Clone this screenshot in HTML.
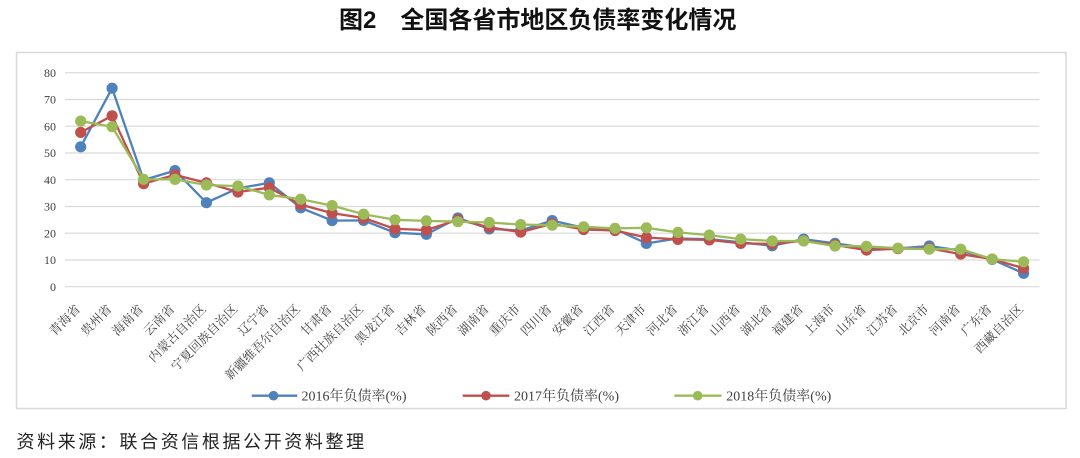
<!DOCTYPE html>
<html>
<head>
<meta charset="utf-8">
<style>
  html, body { margin: 0; padding: 0; background: #ffffff; }
  body { width: 1080px; height: 458px; overflow: hidden; position: relative; }
  svg { position: absolute; left: 0; top: 0; }
  .ylab { font-family: "Liberation Serif", "Noto Serif CJK SC", serif; font-size: 12px; fill: #404040; }
  .xlab { font-family: "Liberation Serif", "Noto Serif CJK SC", serif; font-size: 12.5px; fill: #404040; }
  .leg { font-family: "Liberation Serif", "Noto Serif CJK SC", serif; font-size: 14px; fill: #404040; }
  .title { font-family: "Liberation Sans", "Noto Sans CJK SC", sans-serif; font-size: 24px; font-weight: bold; fill: #111111; }
  .src { font-family: "Liberation Sans", "Noto Sans CJK SC", sans-serif; font-size: 18px; fill: #222222; letter-spacing: 2.6px; }
</style>
</head>
<body>
<svg width="1080" height="458" viewBox="0 0 1080 458" xmlns="http://www.w3.org/2000/svg">
  <!-- Title -->
  <text class="title" x="339" y="28">图2　全国各省市地区负债率变化情况</text>

  <!-- Chart frame -->
  <rect x="16.5" y="52.5" width="1049.5" height="356" fill="#ffffff" stroke="#d9d9d9" stroke-width="1.5"/>

  <!-- Gridlines -->
  <g stroke="#d9d9d9" stroke-width="1.2">
    <line x1="65" y1="72.7" x2="1039.5" y2="72.7"/>
    <line x1="65" y1="99.5" x2="1039.5" y2="99.5"/>
    <line x1="65" y1="126.2" x2="1039.5" y2="126.2"/>
    <line x1="65" y1="153.0" x2="1039.5" y2="153.0"/>
    <line x1="65" y1="179.7" x2="1039.5" y2="179.7"/>
    <line x1="65" y1="206.5" x2="1039.5" y2="206.5"/>
    <line x1="65" y1="233.2" x2="1039.5" y2="233.2"/>
    <line x1="65" y1="260.0" x2="1039.5" y2="260.0"/>
    <line x1="65" y1="286.7" x2="1039.5" y2="286.7"/>
  </g>

  <!-- Y labels -->
  <g class="ylab" text-anchor="end">
    <text x="56" y="76.9">80</text>
    <text x="56" y="103.7">70</text>
    <text x="56" y="130.4">60</text>
    <text x="56" y="157.2">50</text>
    <text x="56" y="183.9">40</text>
    <text x="56" y="210.7">30</text>
    <text x="56" y="237.4">20</text>
    <text x="56" y="264.2">10</text>
    <text x="56" y="290.9">0</text>
  </g>

  <!-- X labels -->
  <g class="xlab" text-anchor="end" dominant-baseline="central">
    <text transform="translate(78.2,307) rotate(-45)">青海省</text>
    <text transform="translate(109.6,307) rotate(-45)">贵州省</text>
    <text transform="translate(141.1,307) rotate(-45)">海南省</text>
    <text transform="translate(172.5,307) rotate(-45)">云南省</text>
    <text transform="translate(203.9,307) rotate(-45)">内蒙古自治区</text>
    <text transform="translate(235.4,307) rotate(-45)">宁夏回族自治区</text>
    <text transform="translate(266.8,307) rotate(-45)">辽宁省</text>
    <text transform="translate(298.2,307) rotate(-45)">新疆维吾尔自治区</text>
    <text transform="translate(329.6,307) rotate(-45)">甘肃省</text>
    <text transform="translate(361.1,307) rotate(-45)">广西壮族自治区</text>
    <text transform="translate(392.5,307) rotate(-45)">黑龙江省</text>
    <text transform="translate(423.9,307) rotate(-45)">吉林省</text>
    <text transform="translate(455.4,307) rotate(-45)">陕西省</text>
    <text transform="translate(486.8,307) rotate(-45)">湖南省</text>
    <text transform="translate(518.2,307) rotate(-45)">重庆市</text>
    <text transform="translate(549.7,307) rotate(-45)">四川省</text>
    <text transform="translate(581.1,307) rotate(-45)">安徽省</text>
    <text transform="translate(612.5,307) rotate(-45)">江西省</text>
    <text transform="translate(643.9,307) rotate(-45)">天津市</text>
    <text transform="translate(675.4,307) rotate(-45)">河北省</text>
    <text transform="translate(706.8,307) rotate(-45)">浙江省</text>
    <text transform="translate(738.2,307) rotate(-45)">山西省</text>
    <text transform="translate(769.7,307) rotate(-45)">湖北省</text>
    <text transform="translate(801.1,307) rotate(-45)">福建省</text>
    <text transform="translate(832.5,307) rotate(-45)">上海市</text>
    <text transform="translate(864.0,307) rotate(-45)">山东省</text>
    <text transform="translate(895.4,307) rotate(-45)">江苏省</text>
    <text transform="translate(926.8,307) rotate(-45)">北京市</text>
    <text transform="translate(958.2,307) rotate(-45)">河南省</text>
    <text transform="translate(989.7,307) rotate(-45)">广东省</text>
    <text transform="translate(1021.1,307) rotate(-45)">西藏自治区</text>
  </g>

  <!-- Series 2016 (blue) -->
  <g fill="#4F81BD">
    <polyline fill="none" stroke="#4F81BD" stroke-width="2.3" stroke-linejoin="round"
      points="80.7,146.8 112.1,88.2 143.6,180.0 175.0,170.6 206.4,202.7 237.9,188.3 269.3,182.9 300.7,207.8 332.1,220.6 363.6,220.4 395.0,232.7 426.4,234.3 457.9,218.0 489.3,228.9 520.7,230.5 552.2,220.6 583.6,227.8 615.0,228.9 646.4,243.4 677.9,238.5 709.3,239.1 740.7,242.3 772.2,245.8 803.6,239.1 835.0,243.4 866.5,247.9 897.9,248.4 929.3,246.0 960.7,250.6 992.2,259.4 1023.6,273.3"/>
    <circle cx="80.7" cy="146.8" r="5.6"/><circle cx="112.1" cy="88.2" r="5.6"/><circle cx="143.6" cy="180.0" r="5.6"/><circle cx="175.0" cy="170.6" r="5.6"/><circle cx="206.4" cy="202.7" r="5.6"/><circle cx="237.9" cy="188.3" r="5.6"/><circle cx="269.3" cy="182.9" r="5.6"/><circle cx="300.7" cy="207.8" r="5.6"/><circle cx="332.1" cy="220.6" r="5.6"/><circle cx="363.6" cy="220.4" r="5.6"/><circle cx="395.0" cy="232.7" r="5.6"/><circle cx="426.4" cy="234.3" r="5.6"/><circle cx="457.9" cy="218.0" r="5.6"/><circle cx="489.3" cy="228.9" r="5.6"/><circle cx="520.7" cy="230.5" r="5.6"/><circle cx="552.2" cy="220.6" r="5.6"/><circle cx="583.6" cy="227.8" r="5.6"/><circle cx="615.0" cy="228.9" r="5.6"/><circle cx="646.4" cy="243.4" r="5.6"/><circle cx="677.9" cy="238.5" r="5.6"/><circle cx="709.3" cy="239.1" r="5.6"/><circle cx="740.7" cy="242.3" r="5.6"/><circle cx="772.2" cy="245.8" r="5.6"/><circle cx="803.6" cy="239.1" r="5.6"/><circle cx="835.0" cy="243.4" r="5.6"/><circle cx="866.5" cy="247.9" r="5.6"/><circle cx="897.9" cy="248.4" r="5.6"/><circle cx="929.3" cy="246.0" r="5.6"/><circle cx="960.7" cy="250.6" r="5.6"/><circle cx="992.2" cy="259.4" r="5.6"/><circle cx="1023.6" cy="273.3" r="5.6"/>
  </g>

  <!-- Series 2017 (red) -->
  <g fill="#C0504D">
    <polyline fill="none" stroke="#C0504D" stroke-width="2.3" stroke-linejoin="round"
      points="80.7,132.4 112.1,115.8 143.6,183.7 175.0,174.9 206.4,182.9 237.9,192.0 269.3,187.7 300.7,204.6 332.1,213.1 363.6,218.0 395.0,228.9 426.4,230.0 457.9,219.8 489.3,227.3 520.7,232.1 552.2,223.8 583.6,229.5 615.0,230.5 646.4,237.5 677.9,239.4 709.3,239.9 740.7,243.4 772.2,243.9 803.6,240.7 835.0,245.0 866.5,250.1 897.9,248.7 929.3,248.4 960.7,254.1 992.2,259.1 1023.6,268.2"/>
    <circle cx="80.7" cy="132.4" r="5.6"/><circle cx="112.1" cy="115.8" r="5.6"/><circle cx="143.6" cy="183.7" r="5.6"/><circle cx="175.0" cy="174.9" r="5.6"/><circle cx="206.4" cy="182.9" r="5.6"/><circle cx="237.9" cy="192.0" r="5.6"/><circle cx="269.3" cy="187.7" r="5.6"/><circle cx="300.7" cy="204.6" r="5.6"/><circle cx="332.1" cy="213.1" r="5.6"/><circle cx="363.6" cy="218.0" r="5.6"/><circle cx="395.0" cy="228.9" r="5.6"/><circle cx="426.4" cy="230.0" r="5.6"/><circle cx="457.9" cy="219.8" r="5.6"/><circle cx="489.3" cy="227.3" r="5.6"/><circle cx="520.7" cy="232.1" r="5.6"/><circle cx="552.2" cy="223.8" r="5.6"/><circle cx="583.6" cy="229.5" r="5.6"/><circle cx="615.0" cy="230.5" r="5.6"/><circle cx="646.4" cy="237.5" r="5.6"/><circle cx="677.9" cy="239.4" r="5.6"/><circle cx="709.3" cy="239.9" r="5.6"/><circle cx="740.7" cy="243.4" r="5.6"/><circle cx="772.2" cy="243.9" r="5.6"/><circle cx="803.6" cy="240.7" r="5.6"/><circle cx="835.0" cy="245.0" r="5.6"/><circle cx="866.5" cy="250.1" r="5.6"/><circle cx="897.9" cy="248.7" r="5.6"/><circle cx="929.3" cy="248.4" r="5.6"/><circle cx="960.7" cy="254.1" r="5.6"/><circle cx="992.2" cy="259.1" r="5.6"/><circle cx="1023.6" cy="268.2" r="5.6"/>
  </g>

  <!-- Series 2018 (green) -->
  <g fill="#9BBB59">
    <polyline fill="none" stroke="#9BBB59" stroke-width="2.3" stroke-linejoin="round"
      points="80.7,121.1 112.1,126.7 143.6,179.4 175.0,179.4 206.4,185.0 237.9,186.1 269.3,194.9 300.7,199.2 332.1,205.6 363.6,214.2 395.0,219.8 426.4,220.9 457.9,221.7 489.3,222.5 520.7,224.6 552.2,225.2 583.6,226.8 615.0,228.4 646.4,227.8 677.9,232.4 709.3,235.1 740.7,239.1 772.2,241.0 803.6,241.0 835.0,246.0 866.5,246.3 897.9,248.2 929.3,249.2 960.7,249.2 992.2,259.1 1023.6,261.8"/>
    <circle cx="80.7" cy="121.1" r="5.6"/><circle cx="112.1" cy="126.7" r="5.6"/><circle cx="143.6" cy="179.4" r="5.6"/><circle cx="175.0" cy="179.4" r="5.6"/><circle cx="206.4" cy="185.0" r="5.6"/><circle cx="237.9" cy="186.1" r="5.6"/><circle cx="269.3" cy="194.9" r="5.6"/><circle cx="300.7" cy="199.2" r="5.6"/><circle cx="332.1" cy="205.6" r="5.6"/><circle cx="363.6" cy="214.2" r="5.6"/><circle cx="395.0" cy="219.8" r="5.6"/><circle cx="426.4" cy="220.9" r="5.6"/><circle cx="457.9" cy="221.7" r="5.6"/><circle cx="489.3" cy="222.5" r="5.6"/><circle cx="520.7" cy="224.6" r="5.6"/><circle cx="552.2" cy="225.2" r="5.6"/><circle cx="583.6" cy="226.8" r="5.6"/><circle cx="615.0" cy="228.4" r="5.6"/><circle cx="646.4" cy="227.8" r="5.6"/><circle cx="677.9" cy="232.4" r="5.6"/><circle cx="709.3" cy="235.1" r="5.6"/><circle cx="740.7" cy="239.1" r="5.6"/><circle cx="772.2" cy="241.0" r="5.6"/><circle cx="803.6" cy="241.0" r="5.6"/><circle cx="835.0" cy="246.0" r="5.6"/><circle cx="866.5" cy="246.3" r="5.6"/><circle cx="897.9" cy="248.2" r="5.6"/><circle cx="929.3" cy="249.2" r="5.6"/><circle cx="960.7" cy="249.2" r="5.6"/><circle cx="992.2" cy="259.1" r="5.6"/><circle cx="1023.6" cy="261.8" r="5.6"/>
  </g>

  <!-- Legend -->
  <g>
    <line x1="251.7" y1="395.7" x2="297.3" y2="395.7" stroke="#4F81BD" stroke-width="2.3"/>
    <circle cx="273.5" cy="395.7" r="4.8" fill="#4F81BD"/>
    <text class="leg" x="301.5" y="400.6">2016年负债率(%)</text>

    <line x1="462.7" y1="395.7" x2="509.3" y2="395.7" stroke="#C0504D" stroke-width="2.3"/>
    <circle cx="486" cy="395.7" r="4.8" fill="#C0504D"/>
    <text class="leg" x="514" y="400.6">2017年负债率(%)</text>

    <line x1="674.3" y1="395.7" x2="721.5" y2="395.7" stroke="#9BBB59" stroke-width="2.3"/>
    <circle cx="697.7" cy="395.7" r="4.8" fill="#9BBB59"/>
    <text class="leg" x="726.3" y="400.6">2018年负债率(%)</text>
  </g>

  <!-- Source -->
  <text class="src" x="16.5" y="448">资料来源：联合资信根据公开资料整理</text>
</svg>
</body>
</html>
